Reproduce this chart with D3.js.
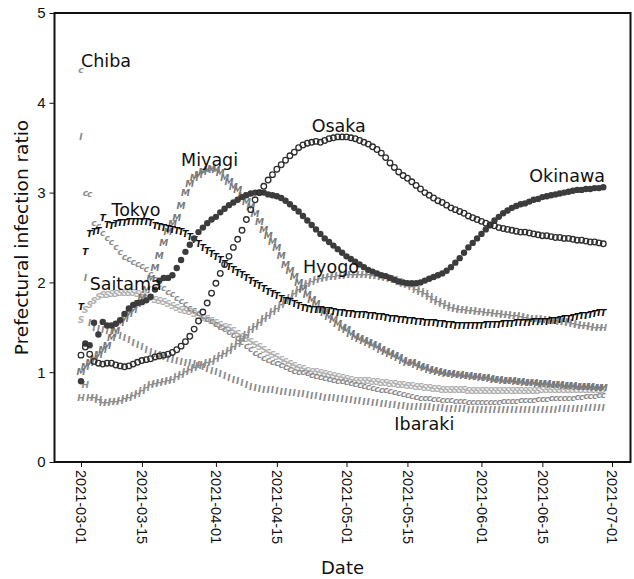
<!DOCTYPE html>
<html>
<head>
<meta charset="utf-8">
<script src="https://cdn.jsdelivr.net/npm/d3@7"></script>
<style>
  body { margin: 0; background: #fff; }
  svg { display: block; font-family: "DejaVu Sans", sans-serif; }
</style>
</head>
<body>
<svg id="chart"></svg>
<script>
// daily values, 2021-03-01 .. 2021-06-29 (121 days)
var startDate = new Date(2021, 2, 1);

var tokyo = [1.73,2.34,2.54,2.56,2.58,2.72,2.64,2.63,2.65,2.66,2.66,2.67,2.67,2.68,2.68,2.68,2.66,2.63,2.62,2.61,
  2.60,2.59,2.58,2.56,2.54,2.51,2.47,2.43,2.39,2.35,2.32,2.28,2.25,2.21,2.17,2.14,2.11,2.08,2.05,2.02,
  1.99,1.96,1.93,1.90,1.87,1.85,1.82,1.80,1.78,1.76,1.74,1.72,1.71,1.70,1.69,1.69,1.68,1.68,1.67,1.66,
  1.66,1.65,1.65,1.64,1.64,1.64,1.63,1.63,1.62,1.62,1.61,1.60,1.59,1.58,1.58,1.57,1.57,1.56,1.56,1.55,
  1.55,1.55,1.54,1.54,1.53,1.53,1.52,1.52,1.52,1.52,1.52,1.52,1.52,1.53,1.53,1.53,1.53,1.54,1.54,1.54,
  1.55,1.55,1.55,1.55,1.56,1.56,1.56,1.56,1.57,1.57,1.58,1.59,1.60,1.61,1.62,1.63,1.63,1.64,1.65,1.66,1.66];

var osaka = [1.19,1.28,1.20,1.12,1.10,1.09,1.10,1.10,1.08,1.07,1.06,1.07,1.09,1.11,1.13,1.14,1.15,1.17,1.18,1.19,
  1.20,1.22,1.25,1.29,1.34,1.40,1.48,1.57,1.67,1.77,1.88,1.99,2.10,2.20,2.29,2.39,2.48,2.58,2.70,2.81,
  2.92,3.00,3.07,3.14,3.20,3.26,3.31,3.36,3.41,3.45,3.50,3.53,3.55,3.56,3.57,3.56,3.58,3.60,3.61,3.62,
  3.62,3.62,3.61,3.60,3.58,3.56,3.54,3.51,3.48,3.44,3.39,3.33,3.28,3.23,3.19,3.16,3.12,3.08,3.04,3.00,
  2.97,2.94,2.91,2.89,2.86,2.83,2.81,2.79,2.77,2.74,2.72,2.70,2.68,2.66,2.64,2.63,2.61,2.60,2.59,2.58,
  2.57,2.56,2.56,2.55,2.54,2.53,2.52,2.52,2.51,2.50,2.50,2.49,2.49,2.48,2.47,2.47,2.46,2.45,2.45,2.44,2.43];

var okinawa = [0.90,1.32,1.30,1.55,1.42,1.56,1.52,1.52,1.54,1.58,1.65,1.71,1.75,1.77,1.78,1.80,1.84,1.92,2.02,2.05,
  2.05,2.08,2.16,2.25,2.34,2.42,2.49,2.56,2.61,2.66,2.70,2.73,2.78,2.82,2.86,2.89,2.92,2.95,2.97,2.99,
  3.00,3.00,3.00,2.98,2.97,2.96,2.94,2.91,2.87,2.83,2.79,2.74,2.69,2.64,2.59,2.54,2.49,2.45,2.41,2.37,
  2.33,2.29,2.26,2.23,2.20,2.17,2.14,2.12,2.10,2.08,2.07,2.05,2.03,2.01,2.00,1.99,1.99,1.99,2.00,2.02,
  2.04,2.06,2.08,2.10,2.13,2.17,2.22,2.27,2.33,2.39,2.44,2.49,2.54,2.59,2.64,2.69,2.73,2.77,2.80,2.83,
  2.85,2.87,2.88,2.90,2.92,2.93,2.95,2.96,2.97,2.98,2.99,3.00,3.01,3.02,3.03,3.03,3.04,3.04,3.05,3.05,3.06];

var miyagi = [1.00,1.06,1.10,1.15,1.19,1.25,1.30,1.38,1.46,1.55,1.60,1.65,1.70,1.76,1.83,1.92,2.04,2.16,2.30,2.44,
  2.56,2.65,2.72,2.85,3.00,3.10,3.16,3.20,3.23,3.25,3.26,3.25,3.22,3.17,3.12,3.07,3.03,2.97,2.90,2.84,
  2.76,2.67,2.59,2.52,2.45,2.39,2.30,2.20,2.13,2.06,2.00,1.93,1.86,1.81,1.76,1.70,1.66,1.62,1.58,1.54,
  1.50,1.47,1.43,1.40,1.37,1.35,1.33,1.31,1.28,1.25,1.23,1.20,1.18,1.16,1.13,1.11,1.10,1.08,1.06,1.05,
  1.03,1.02,1.00,0.99,0.98,0.98,0.97,0.97,0.96,0.96,0.95,0.95,0.94,0.94,0.93,0.92,0.92,0.91,0.90,0.90,
  0.89,0.89,0.88,0.88,0.88,0.87,0.87,0.87,0.86,0.86,0.86,0.85,0.85,0.85,0.84,0.84,0.84,0.84,0.83,0.83,0.83];

var hyogo = [0.71,0.86,0.72,0.72,0.69,0.66,0.66,0.67,0.67,0.68,0.70,0.72,0.74,0.76,0.79,0.83,0.86,0.87,0.88,0.89,
  0.90,0.92,0.95,0.97,1.00,1.03,1.05,1.07,1.08,1.10,1.12,1.15,1.18,1.21,1.24,1.28,1.32,1.37,1.42,1.47,
  1.51,1.55,1.59,1.63,1.67,1.71,1.75,1.79,1.83,1.87,1.92,1.96,1.99,2.01,2.03,2.04,2.05,2.06,2.06,2.07,
  2.07,2.08,2.08,2.08,2.08,2.08,2.08,2.07,2.07,2.06,2.05,2.04,2.03,2.01,1.99,1.97,1.95,1.92,1.90,1.87,
  1.84,1.81,1.78,1.76,1.74,1.72,1.71,1.70,1.69,1.68,1.68,1.67,1.67,1.66,1.66,1.65,1.65,1.64,1.64,1.63,
  1.63,1.62,1.61,1.60,1.60,1.59,1.58,1.58,1.57,1.57,1.56,1.56,1.55,1.54,1.53,1.52,1.52,1.51,1.50,1.50,1.49];

var chiba = [4.37,3.00,2.99,2.66,2.63,2.55,2.50,2.45,2.40,2.34,2.29,2.26,2.23,2.21,2.18,2.15,2.10,2.04,1.99,1.94,
  1.90,1.87,1.83,1.80,1.76,1.72,1.69,1.66,1.63,1.60,1.57,1.54,1.51,1.48,1.45,1.42,1.38,1.34,1.30,1.26,
  1.22,1.19,1.16,1.14,1.12,1.10,1.08,1.06,1.04,1.02,1.01,1.00,0.99,0.97,0.96,0.95,0.94,0.93,0.92,0.91,
  0.90,0.89,0.88,0.87,0.86,0.85,0.84,0.83,0.82,0.81,0.80,0.79,0.78,0.77,0.76,0.75,0.74,0.73,0.72,0.72,
  0.71,0.70,0.70,0.69,0.69,0.69,0.68,0.68,0.68,0.67,0.67,0.67,0.67,0.67,0.67,0.67,0.67,0.68,0.68,0.68,
  0.68,0.69,0.69,0.69,0.69,0.70,0.70,0.70,0.71,0.71,0.71,0.72,0.72,0.72,0.73,0.73,0.74,0.74,0.74,0.75,0.75];

var saitama = [1.58,1.69,1.75,1.80,1.84,1.86,1.86,1.87,1.87,1.88,1.88,1.88,1.88,1.87,1.86,1.85,1.83,1.81,1.80,1.78,
  1.76,1.74,1.72,1.70,1.68,1.67,1.65,1.63,1.61,1.59,1.57,1.55,1.53,1.51,1.49,1.46,1.43,1.40,1.37,1.34,
  1.31,1.28,1.25,1.22,1.19,1.17,1.14,1.12,1.09,1.07,1.05,1.04,1.02,1.01,1.00,0.99,0.98,0.97,0.96,0.95,
  0.94,0.93,0.92,0.91,0.91,0.90,0.90,0.89,0.89,0.88,0.88,0.87,0.87,0.86,0.86,0.85,0.85,0.84,0.84,0.83,
  0.83,0.82,0.82,0.81,0.81,0.80,0.80,0.80,0.80,0.79,0.79,0.79,0.79,0.79,0.79,0.79,0.79,0.79,0.79,0.79,
  0.79,0.79,0.79,0.79,0.79,0.79,0.80,0.80,0.80,0.80,0.80,0.80,0.80,0.80,0.80,0.81,0.81,0.81,0.81,0.81,0.81];

var ibaraki = [3.62,2.05,1.55,1.50,1.48,1.47,1.46,1.45,1.43,1.41,1.38,1.36,1.33,1.31,1.28,1.25,1.23,1.21,1.19,1.17,
  1.15,1.14,1.13,1.12,1.11,1.10,1.09,1.08,1.06,1.04,1.02,1.00,0.98,0.96,0.94,0.92,0.90,0.88,0.86,0.84,
  0.83,0.82,0.81,0.80,0.80,0.79,0.78,0.78,0.77,0.77,0.76,0.76,0.75,0.74,0.74,0.73,0.72,0.72,0.71,0.70,
  0.70,0.69,0.69,0.68,0.68,0.67,0.67,0.66,0.66,0.65,0.65,0.64,0.64,0.63,0.63,0.62,0.62,0.62,0.61,0.61,
  0.61,0.60,0.60,0.60,0.59,0.59,0.59,0.59,0.59,0.58,0.58,0.58,0.58,0.58,0.58,0.58,0.58,0.58,0.58,0.58,
  0.58,0.58,0.58,0.58,0.58,0.58,0.58,0.58,0.58,0.58,0.59,0.59,0.59,0.59,0.59,0.59,0.60,0.60,0.60,0.60,0.60];

// series names, marker letters and where each name label sits (day index, value)
var names = ["Ibaraki", "Saitama", "Chiba", "Hyogo", "Miyagi", "Tokyo", "Okinawa", "Osaka"];
var markers = ["I", "S", "c", "H", "M", "T", "dot", "ring"];
var shades = ["#8a8a8a", "#b0b0b0", "#8c8c8c", "#8e8e8e", "#7a7a7a", "#111111", "#3c3c3c", "#2e2e2e"];
var labelDay = [72, 2, 0, 51, 23, 7, 103, 53];
var labelValue = [0.36, 1.92, 4.4, 2.1, 3.3, 2.74, 3.12, 3.67];

var xTicks = ["2021-03-01", "2021-03-15", "2021-04-01", "2021-04-15", "2021-05-01",
  "2021-05-15", "2021-06-01", "2021-06-15", "2021-07-01"];
var yTicks = [0, 1, 2, 3, 4, 5];

var values = {
  Tokyo: tokyo, Osaka: osaka, Okinawa: okinawa, Miyagi: miyagi,
  Hyogo: hyogo, Chiba: chiba, Saitama: saitama, Ibaraki: ibaraki
};

drawChart();

function drawChart() {
  var svgWidth = 634, svgHeight = 579;
  var margin = {top: 13, right: 3.5, bottom: 117, left: 54.5};
  var width = svgWidth - margin.left - margin.right;
  var height = svgHeight - margin.top - margin.bottom;
  var parse = d3.timeParse("%Y-%m-%d");

  var svg = d3.select("#chart")
    .attr("width", svgWidth)
    .attr("height", svgHeight);
  var g = svg.append("g")
    .attr("transform", "translate(" + margin.left + "," + margin.top + ")");

  // matplotlib style padding around the data range
  var x = d3.scaleTime()
    .domain([d3.timeHour.offset(startDate, -146), d3.timeHour.offset(parse("2021-07-01"), 102)])
    .range([0, width]);
  var y = d3.scaleLinear().domain([0, 5]).range([height, 0]);

  var day = function (i) { return d3.timeDay.offset(startDate, i); };

  // series, bottom of the stack first
  names.forEach(function (name, k) {
    var data = values[name].map(function (v, i) { return {date: day(i), value: v}; });
    var layer = g.append("g").attr("class", "series");
    var kind = markers[k];
    if (kind === "ring") {
      layer.selectAll("circle").data(data).enter().append("circle")
        .attr("cx", function (d) { return x(d.date); })
        .attr("cy", function (d) { return y(d.value); })
        .attr("r", 2.8)
        .attr("fill", "none")
        .attr("stroke", shades[k])
        .attr("stroke-width", 1.3);
    } else if (kind === "dot") {
      layer.selectAll("circle").data(data).enter().append("circle")
        .attr("cx", function (d) { return x(d.date); })
        .attr("cy", function (d) { return y(d.value); })
        .attr("r", 3.2)
        .attr("fill", shades[k]);
    } else {
      // letter markers, italic like mathtext
      layer.selectAll("text").data(data).enter().append("text")
        .attr("x", function (d) { return x(d.date); })
        .attr("y", function (d) { return y(d.value); })
        .attr("dy", "0.36em")
        .attr("text-anchor", "middle")
        .attr("font-size", 9)
        .attr("font-style", "italic")
        .attr("font-weight", "bold")
        .attr("fill", shades[k])
        .text(kind);
    }
  });

  // name labels
  g.selectAll(".name").data(names).enter().append("text")
    .attr("class", "name")
    .attr("x", function (d, k) { return x(day(labelDay[k])); })
    .attr("y", function (d, k) { return y(labelValue[k]); })
    .attr("font-size", 17.5)
    .attr("fill", "#111")
    .text(function (d) { return d; });

  // axes
  var xAxis = g.append("g")
    .attr("transform", "translate(0," + height + ")")
    .call(d3.axisBottom(x).tickValues(xTicks.map(parse)).tickFormat(d3.timeFormat("%Y-%m-%d")).tickSize(5).tickPadding(4));
  xAxis.select(".domain").remove();
  xAxis.selectAll("text")
    .attr("transform", "rotate(90)")
    .attr("text-anchor", "start")
    .attr("x", 8)
    .attr("y", 0)
    .attr("dy", "0.35em")
    .attr("font-size", 14.5)
    .attr("fill", "#111");

  var yAxis = g.append("g")
    .call(d3.axisLeft(y).tickValues(yTicks).tickFormat(d3.format("d")).tickSize(5).tickPadding(4));
  yAxis.select(".domain").remove();
  yAxis.selectAll("text").attr("font-size", 15).attr("fill", "#111");

  svg.selectAll(".tick line").attr("stroke", "#111").attr("stroke-width", 1);

  // frame
  g.append("rect")
    .attr("width", width)
    .attr("height", height)
    .attr("fill", "none")
    .attr("stroke", "#111")
    .attr("stroke-width", 2);

  g.append("text")
    .attr("x", width / 2)
    .attr("y", height + 112)
    .attr("text-anchor", "middle")
    .attr("font-size", 18)
    .attr("fill", "#111")
    .text("Date");

  g.append("text")
    .attr("transform", "rotate(-90)")
    .attr("x", -height / 2)
    .attr("y", -27)
    .attr("text-anchor", "middle")
    .attr("font-size", 18.5)
    .attr("fill", "#111")
    .text("Prefectural infection ratio");
}
</script>
</body>
</html>
